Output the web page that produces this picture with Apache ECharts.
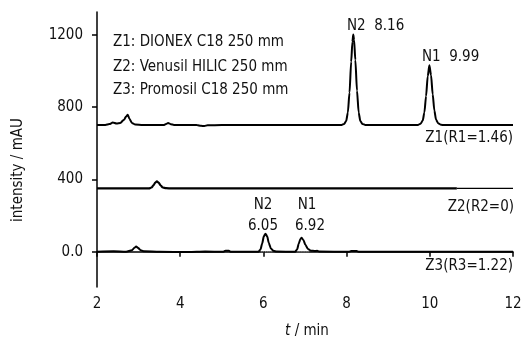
<!DOCTYPE html>
<html>
<head>
<meta charset="utf-8">
<script src="https://cdn.jsdelivr.net/npm/echarts@6/dist/echarts.min.js"></script>
<style>
html,body{margin:0;padding:0;background:#fff;}
#c{width:525px;height:340px;}
</style>
</head>
<body>
<div id="c"></div>
<script>
// ---- data ----
const xTicks = [2, 4, 6, 8, 10, 12];
const yTicks = [0, 400, 800, 1200];
const yTickLabels = ['0.0', '400', '800', '1200'];

// Z1: DIONEX C18 (baseline ~700)
const z1 = [
  [2.00,700],[2.20,701],[2.30,706],[2.38,714],[2.47,709],[2.56,712],[2.65,730],[2.70,748],[2.74,757],
  [2.78,735],[2.84,712],[2.92,703],[3.10,700],[3.60,700],[3.66,706],[3.71,712],[3.77,705],[3.85,701],
  [4.40,700],[4.50,696],[4.58,695],[4.66,699],[5.00,700],[7.80,700],[7.88,701],[7.94,706],[7.99,722],
  [8.03,770],[8.07,880],[8.11,1050],[8.14,1160],[8.16,1200],[8.18,1170],[8.21,1060],[8.25,890],
  [8.29,770],[8.33,722],[8.38,706],[8.45,701],[8.55,700],[9.65,700],[9.72,701],[9.78,708],[9.83,725],
  [9.87,770],[9.91,860],[9.95,970],[9.99,1030],[10.03,975],[10.07,870],[10.11,780],[10.15,730],
  [10.20,710],[10.27,702],[10.35,700],[12.00,700]
];
// Z2: Venusil HILIC (baseline ~350)
const z2 = [
  [2.00,350],[3.25,350],[3.31,355],[3.36,368],[3.40,382],[3.44,389],[3.48,382],[3.53,366],[3.58,355],
  [3.66,351],[3.80,350],[10.65,350]
];
const z2tail = [[10.65,350],[12.00,350]];
// Z3: Promosil C18 (baseline ~0)
const z3 = [
  [2.00,0],[2.40,2],[2.70,0],[2.84,8],[2.90,22],[2.94,29],[2.99,20],[3.05,8],[3.14,2],[3.50,0],
  [4.20,-2],[4.60,1],[5.04,0],[5.09,6],[5.17,5],[5.22,0],[5.88,0],[5.93,12],[5.97,45],[6.01,85],
  [6.05,100],[6.09,85],[6.13,48],[6.18,18],[6.24,5],[6.32,1],[6.76,0],[6.81,12],[6.85,45],[6.89,70],
  [6.92,77],[6.96,65],[7.01,38],[7.07,15],[7.14,6],[7.24,4],[7.29,5],[7.34,1],[8.06,0],[8.11,4],
  [8.24,4],[8.29,0],[12.00,0]
];
const z3base1 = [[5.95,0],[6.22,0]];
const z3base2 = [[6.82,0],[7.10,0]];

const FONT = '"Liberation Sans Narrow","Arial Narrow","DejaVu Sans Condensed",sans-serif';
const FS = 15;
const chart = echarts.init(document.getElementById('c'), null, {renderer:'canvas'});

function txt(text, x, y, align) {
  return {
    type:'text', x:x, y:y,
    style:{text:text, fill:'#111', font: FS + 'px ' + FONT, textAlign: align || 'left', textVerticalAlign:'middle'}
  };
}

function ser(data, w, type) {
  return {type:'line', data:data, showSymbol:false, symbol:'none', smooth:0.25, smoothMonotone:'x',
    lineStyle:{color: type ? '#aaa' : '#000', width:w, type: type || 'solid'}, silent:true, animation:false};
}

chart.setOption({
  animation:false,
  grid:{left:97, right:12, top:12, bottom:53},
  xAxis:{
    type:'value', min:2, max:12, interval:2,
    axisLine:{lineStyle:{color:'#000', width:1.5}},
    axisTick:{show:true, length:5, lineStyle:{color:'#000', width:1.5}},
    axisLabel:{color:'#111', fontFamily:FONT, fontSize:FS, margin:10, showMinLabel:true, showMaxLabel:true},
    splitLine:{show:false}
  },
  yAxis:{
    type:'value', min:-195, max:1325,
    axisLine:{show:true, lineStyle:{color:'#000', width:1.5}},
    axisTick:{show:true, length:5, customValues:yTicks, lineStyle:{color:'#000', width:1.5}},
    axisLabel:{color:'#111', fontFamily:FONT, fontSize:FS, margin:14, customValues:yTicks,
      formatter:function(v){ const i = yTicks.indexOf(v); return i >= 0 ? yTickLabels[i] : ''; }},
    splitLine:{show:false}
  },
  series:[
    ser(z3base1, 1, 'dotted'),
    ser(z3base2, 1, 'dotted'),
    ser(z1, 2),
    ser(z2, 2.2),
    ser(z2tail, 1.2),
    ser(z3, 2)
  ],
  graphic:[
    txt('Z1: DIONEX C18 250 mm', 113, 42),
    txt('Z2: Venusil HILIC 250 mm', 113, 67),
    txt('Z3: Promosil C18 250 mm', 113, 90),
    txt('N2  8.16', 347, 26),
    txt('N1  9.99', 422, 57),
    txt('Z1(R1=1.46)', 513, 138, 'right'),
    txt('Z2(R2=0)', 514, 207, 'right'),
    txt('Z3(R3=1.22)', 513, 266, 'right'),
    txt('N2', 263, 205, 'center'),
    txt('6.05', 263, 226, 'center'),
    txt('N1', 307, 205, 'center'),
    txt('6.92', 310, 226, 'center'),
    {type:'text', x:307, y:331, style:{rich:{i:{fontStyle:'italic', fontFamily:FONT, fontSize:FS, fill:'#111'}, n:{fontFamily:FONT, fontSize:FS, fill:'#111'}},
      text:'{i|t}{n| / min}', textAlign:'center', textVerticalAlign:'middle'}},
    {type:'text', x:18, y:170, rotation:Math.PI/2, style:{text:'intensity / mAU', fill:'#111', font: FS + 'px ' + FONT, textAlign:'center', textVerticalAlign:'middle'}}
  ]
});
</script>
</body>
</html>
